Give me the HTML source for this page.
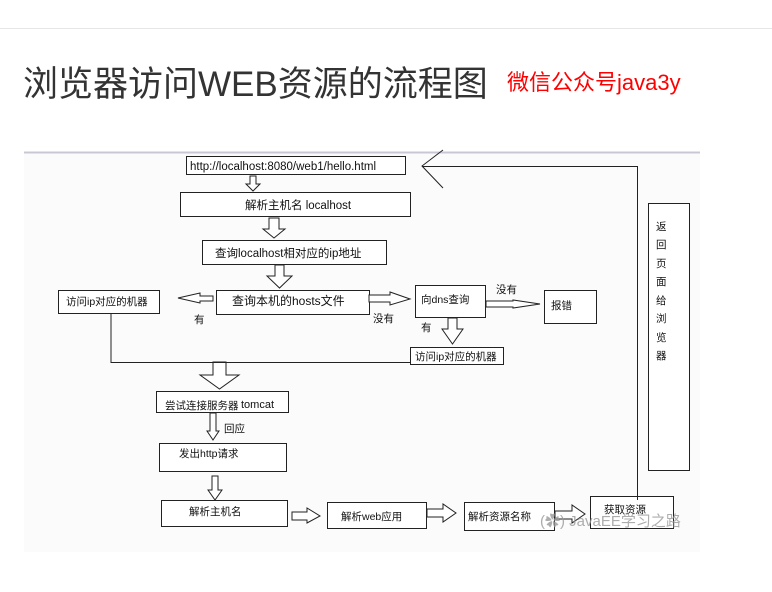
<!DOCTYPE html>
<html><head><meta charset="utf-8"><style>
body{margin:0;width:772px;height:592px;background:#fff;overflow:hidden;position:relative;font-family:"Liberation Sans","Noto Sans CJK SC",sans-serif}
.t{position:absolute;white-space:nowrap}
</style></head><body>
<div style="position:absolute;left:0;top:28px;width:772px;height:1px;background:#e6e6e6"></div>
<div class="t" style="left:23px;top:56px;font-size:35px;color:#333;letter-spacing:0px">浏览器访问WEB资源的流程图</div>
<div class="t" style="left:507px;top:65px;font-size:22px;color:#f00;letter-spacing:0px">微信公众号java3y</div>
<svg style="position:absolute;left:0;top:0" width="772" height="592" font-family="Liberation Sans, Noto Sans CJK SC, sans-serif" font-size="11">
<rect x="24" y="152" width="676" height="400" fill="#fbfbfb"/>
<line x1="24" y1="152.5" x2="700" y2="152.5" stroke="#c8c8d4" stroke-width="2"/>
<g fill="#fff" stroke="#222" stroke-width="1">
<rect x="186.5" y="156.5" width="219" height="18"/>
<rect x="180.5" y="192.5" width="230" height="24"/>
<rect x="202.5" y="240.5" width="184" height="24"/>
<rect x="216.5" y="290.5" width="153" height="24"/>
<rect x="58.5" y="290.5" width="101" height="23"/>
<rect x="415.5" y="285.5" width="70" height="32"/>
<rect x="544.5" y="290.5" width="52" height="33"/>
<rect x="410.5" y="347.5" width="93" height="17"/>
<rect x="648.5" y="203.5" width="41" height="267"/>
<rect x="156.5" y="391.5" width="132" height="21"/>
<rect x="159.5" y="443.5" width="127" height="28"/>
<rect x="161.5" y="500.5" width="126" height="26"/>
<rect x="327.5" y="502.5" width="99" height="26"/>
<rect x="464.5" y="502.5" width="90" height="28"/>
<rect x="590.5" y="496.5" width="83" height="32"/>
<polygon points="250,176 256,176 256,184 260,184 253,191 246,184 250,184"/>
<polygon points="269,218 279,218 279,229 285,229 274,238 263,229 269,229"/>
<polygon points="275,265 284,265 284,276 292,276 279.5,288 267,276 275,276"/>
<polygon points="448,318 457,318 457,329 463,329 452.5,344 442,329 448,329"/>
<polygon points="213,362 226,362 226,375 239,375 219.5,389 200,375 213,375"/>
<polygon points="210,413 216,413 216,431 219,431 213,440 207,431 210,431"/>
<polygon points="212,476 218,476 218,490 222,490 215,500 208,490 212,490"/>
<polygon points="213,296 200,296 200,293 178,298 200,303 200,301 213,301"/>
<polygon points="369,295 390,295 390,292 410,299 390,305 390,302 369,302"/>
<polygon points="486,301 513,301 513,300 540,304 513,308 513,307 486,307"/>
<polygon points="292,512 307,512 307,508 320,516 307,523 307,520 292,520"/>
<polygon points="427,509 443,509 443,504 456,513 443,522 443,517 427,517"/>
<polygon points="555,511 572,511 572,505 585,514 572,523 572,519 555,519"/>
</g>
<g fill="none" stroke="#222" stroke-width="1">
<polyline points="111,313 111,362.5 410,362.5"/>
<polyline points="637.5,500 637.5,166.5 422,166.5"/>
<polyline points="443,150 422,166 443,188"/>
</g>
<g fill="#111" font-size="11.5">
<text x="190" y="170">http://localhost:8080/web1/hello.html</text>
<text x="245" y="209">解析主机名 localhost</text>
<text x="215" y="257">查询localhost相对应的ip地址</text>
<text x="232" y="305" font-size="12">查询本机的hosts文件</text>
<text x="66" y="305" font-size="10.5">访问ip对应的机器</text>
<text x="194" y="323" font-size="10.5">有</text>
<text x="373" y="322" font-size="10.5">没有</text>
<text x="421" y="303" font-size="10.5">向dns查询</text>
<text x="496" y="293" font-size="10.5">没有</text>
<text x="421" y="331" font-size="10.5">有</text>
<text x="551" y="309" font-size="10.5">报错</text>
<text x="415" y="360" font-size="10.5">访问ip对应的机器</text>
<text x="165" y="409" font-size="10.5">尝试连接服务器</text>
<text x="241" y="408" font-size="11">tomcat</text>
<text x="224" y="432" font-size="10.5">回应</text>
<text x="179" y="457" font-size="10.5">发出http请求</text>
<text x="189" y="515" font-size="10.5">解析主机名</text>
<text x="341" y="520" font-size="10.5">解析web应用</text>
<text x="468" y="520" font-size="10.5">解析资源名称</text>
<text x="604" y="513" font-size="10.5">获取资源</text>
<g font-size="10.5"><text x="656" y="230">返</text><text x="656" y="248">回</text><text x="656" y="267">页</text><text x="656" y="285">面</text><text x="656" y="304">给</text><text x="656" y="322">浏</text><text x="656" y="341">览</text><text x="656" y="359">器</text></g>
</g>
<text x="540" y="526" font-size="15" fill="#999" opacity="0.8">(✿) JavaEE学习之路</text>
</svg>
</body></html>
